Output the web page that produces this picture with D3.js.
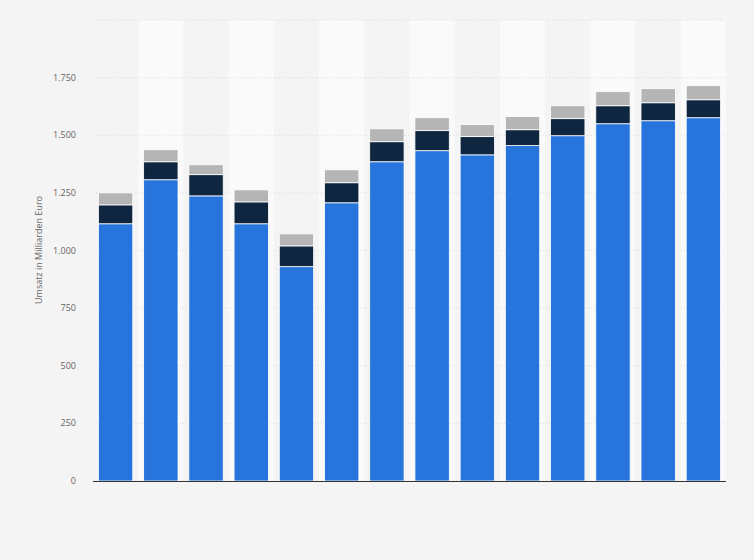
<!DOCTYPE html>
<html><head><meta charset="utf-8">
<script src="https://cdn.jsdelivr.net/npm/d3@7"></script>
<style>body{margin:0;background:#f4f4f4;font-family:"Open Sans",Roboto,sans-serif}</style>
</head><body><svg id="c" width="754" height="560"></svg>
<script>
const categories = ["1","2","3","4","5","6","7","8","9","10","11","12","13","14"];
const seriesA = [1116,1307,1237,1116,930,1207,1385,1433,1415,1455,1498,1550,1563,1576];
const seriesB = [82,78,92,95,90,87,87,87,79,69,74,78,78,78];
const seriesC = [52,52,43,52,52,56,56,56,52,57,56,61,61,61];
const yTicks = [0,250,500,750,1000,1250,1500,1750,2000];
const yLabels = ["0","250","500","750","1.000","1.250","1.500","1.750",""];
const colors = ["#2775dc","#0f2640","#b5b5b5"];

const svg = d3.select("#c");
const m = {l:93,r:726,t:20,b:481};
const x = d3.scaleBand().domain(categories).range([m.l,m.r]).paddingInner(0.24).paddingOuter(0.12);
const xb = d3.scaleBand().domain(categories).range([m.l,m.r]);
const y = d3.scaleLinear().domain([0,2000]).range([m.b,m.t]);

svg.selectAll(".stripe").data(categories).join("rect")
  .attr("x",d=>xb(d)).attr("width",xb.bandwidth()).attr("y",m.t).attr("height",m.b-m.t)
  .attr("fill",(d,i)=>i%2?"#fafafa":"#f4f4f4");

svg.selectAll(".grid").data(yTicks).join("line")
  .attr("x1",m.l).attr("x2",m.r).attr("y1",d=>y(d)).attr("y2",d=>y(d))
  .attr("stroke","#dcdcdc").attr("stroke-dasharray","1,2");

svg.selectAll(".yl").data(yTicks).join("text")
  .attr("x",76).attr("y",d=>y(d)+3).attr("text-anchor","end")
  .attr("font-size",9).attr("fill","#666").text((d,i)=>yLabels[i]);

svg.append("text").attr("transform","translate(42,250) rotate(-90)")
  .attr("text-anchor","middle").attr("font-size",9).attr("fill","#666")
  .text("Umsatz in Milliarden Euro");

const data = categories.map((c,i)=>({c,a:seriesA[i],b:seriesB[i],c2:seriesC[i]}));
const stack = d3.stack().keys(["a","b","c2"])(data);
stack.forEach((s,k)=>{
  svg.selectAll(".s"+k).data(s).join("rect")
    .attr("x",d=>x(d.data.c)).attr("width",x.bandwidth())
    .attr("y",d=>y(d[1])).attr("height",d=>y(d[0])-y(d[1]))
    .attr("fill",colors[k]).attr("stroke","#fff").attr("stroke-width",0.8);
});
svg.append("line").attr("x1",m.l).attr("x2",m.r).attr("y1",m.b+0.5).attr("y2",m.b+0.5)
  .attr("stroke","#333").attr("stroke-width",1);
</script></body></html>
